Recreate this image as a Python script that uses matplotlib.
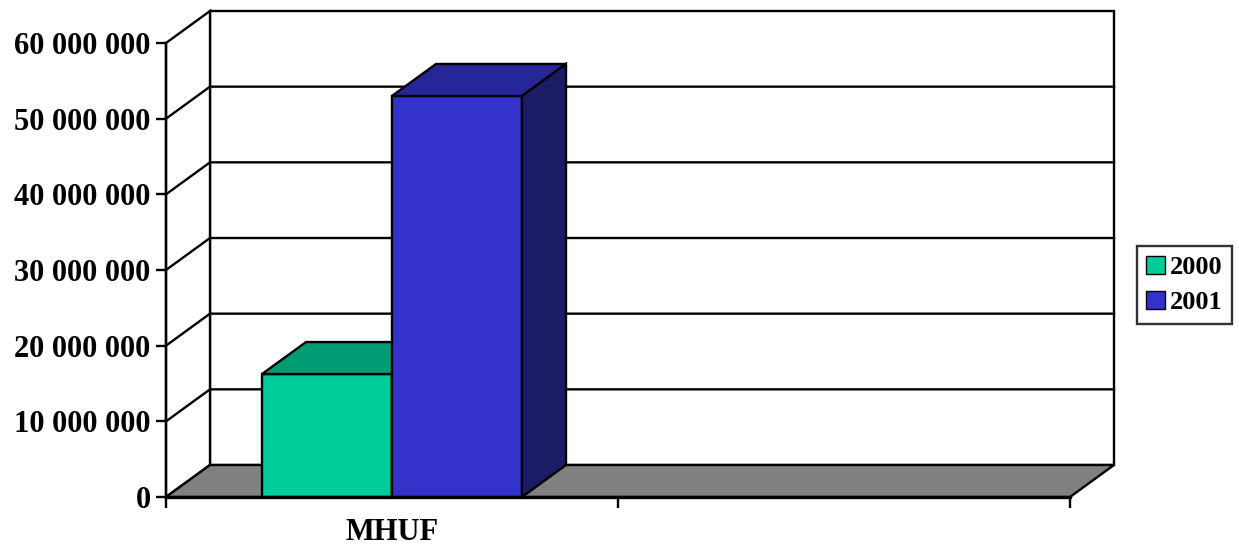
import matplotlib
matplotlib.use('Agg')
import matplotlib.pyplot as plt
from matplotlib.patches import Polygon, Patch
from matplotlib.ticker import FuncFormatter

# data
categories = ['MHUF', '']
years = ['2000', '2001']
values_2000 = [16_250_000, None]
values_2001 = [53_000_000, None]
series = [values_2000, values_2001]

front_colors = ['#00CC99', '#3333CC']
top_colors = ['#009A73', '#262699']
side_colors = ['#007A5C', '#1C1C66']

y_max = 60_000_000
y_step = 10_000_000
gap = 0.2124  # empty space each side of the cluster (fraction of a category)

plt.rcParams['font.family'] = ['Liberation Serif', 'DejaVu Serif']
plt.rcParams['font.weight'] = 'bold'

W, H = 1239, 548
fig = plt.figure(figsize=(W / 100, H / 100), dpi=100)
ax = fig.add_axes([166 / W, 51 / H, 904 / W, 454 / H])
n = len(categories)
ax.set_xlim(0, n)
ax.set_ylim(0, y_max)

# depth of the fake 3D box: pixels -> data units
ddx = 44 * n / 904
ddy = 32 * y_max / 454
lw = 1.7


def poly(pts, fc, z):
    ax.add_patch(Polygon(pts, closed=True, facecolor=fc, edgecolor='black',
                         linewidth=lw, zorder=z, clip_on=False, joinstyle='miter'))


# walls
poly([(ddx, ddy), (n + ddx, ddy), (n + ddx, y_max + ddy), (ddx, y_max + ddy)], 'white', 1)
poly([(0, 0), (ddx, ddy), (ddx, y_max + ddy), (0, y_max)], 'white', 1)
for v in range(y_step, y_max, y_step):
    ax.plot([0, ddx, n + ddx], [v, v + ddy, v + ddy], color='black', lw=lw,
            zorder=1.5, clip_on=False)
# floor
poly([(0, 0), (n, 0), (n + ddx, ddy), (ddx, ddy)], '#808080', 2)

# bars
bw = (1 - 2 * gap) / len(series)
for s, vals in enumerate(series):
    for i, v in enumerate(vals):
        if v is None:
            continue
        x0 = i + gap + s * bw
        x1 = x0 + bw
        z = 3 + s
        poly([(x0, 0), (x1, 0), (x1, v), (x0, v)], front_colors[s], z)
        poly([(x0, v), (x1, v), (x1 + ddx, v + ddy), (x0 + ddx, v + ddy)], top_colors[s], z)
        poly([(x1, 0), (x1 + ddx, ddy), (x1 + ddx, v + ddy), (x1, v)], side_colors[s], z)

# axes
ax.patch.set_visible(False)
for side in ['top', 'right']:
    ax.spines[side].set_visible(False)
ax.spines['left'].set_linewidth(lw)
ax.spines['bottom'].set_linewidth(2.4)
for side in ['left', 'bottom']:
    ax.spines[side].set_zorder(10)

ax.set_yticks(range(0, y_max + 1, y_step))
ax.yaxis.set_major_formatter(FuncFormatter(lambda v, p: f'{v:,.0f}'.replace(',', ' ')))
ax.tick_params(axis='y', length=7, width=lw, pad=4, labelsize=22)

ax.set_xticks(range(n + 1))
ax.set_xticklabels([''] * (n + 1))
ax.tick_params(axis='x', which='major', length=8, width=lw)
ax.set_xticks([i + 0.5 for i in range(n)], minor=True)
ax.set_xticklabels(categories, minor=True)
ax.tick_params(axis='x', which='minor', length=0, pad=15, labelsize=22)

handles = [Patch(facecolor=front_colors[s], edgecolor='black', label=years[s])
           for s in range(len(years))]
leg = fig.legend(handles=handles, loc='center left', bbox_to_anchor=(1137 / W, 1 - 285 / H),
                 fontsize=19, frameon=True, fancybox=False, edgecolor='black',
                 handlelength=0.7, handleheight=0.7, handletextpad=0.2,
                 borderpad=0.35, labelspacing=0.45, borderaxespad=0)
leg.get_frame().set_linewidth(lw)

fig.savefig('out.png', dpi=100)
